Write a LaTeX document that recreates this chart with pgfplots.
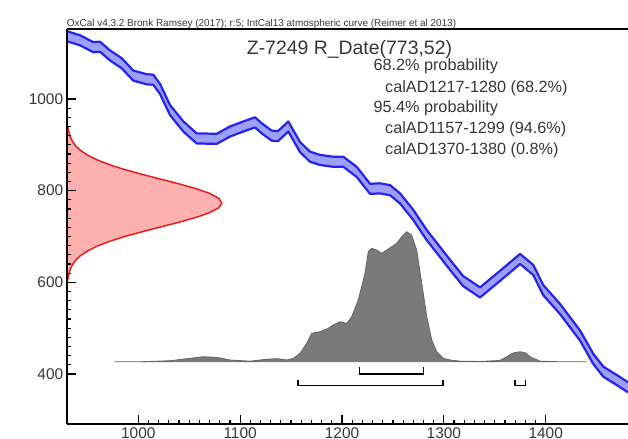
\documentclass[border=0pt]{standalone}
\usepackage{pgfplots}
\pgfplotsset{compat=1.18}
\usepgfplotslibrary{fillbetween}
\usepackage{fontspec}
\setmainfont{Liberation Sans}

\definecolor{bandfill}{RGB}{158,158,252}
\definecolor{bandline}{RGB}{36,36,235}
\definecolor{datefill}{RGB}{252,176,176}
\definecolor{dateline}{RGB}{232,30,30}
\definecolor{postfill}{RGB}{122,122,122}
\definecolor{postline}{RGB}{100,100,100}
\definecolor{txt}{RGB}{55,55,55}

% IntCal13 band (1 sigma envelope)
\pgfplotstableread{
yr lo hi
929.7 1126 1148
942.8 1117 1139
955.8 1102 1124
962.4 1103 1125
972.2 1084 1106
983.7 1067 1089
995.1 1040 1062
1008.2 1032 1054
1014.7 1031 1053
1021.3 1011 1033
1031.1 965 987
1044.2 929 951
1057.3 903 925
1077.0 902 924
1090.0 918 940
1103.1 929 951
1114.6 938 960
1121.2 925 947
1131.0 909 931
1137.2 908 930
1147.3 929 951
1158.8 884 906
1168.6 863 885
1178.4 856 878
1191.5 852 874
1201.3 852 874
1214.4 830 852
1227.5 793 815
1237.3 794 816
1247.2 790 812
1257.0 772 794
1270.0 736 758
1283.2 692 714
1296.3 655 677
1306.1 627 649
1318.8 592 614
1335.5 567 589
1355.1 603 625
1374.8 640 662
1387.8 616 638
1397.6 572 594
1414.0 531 553
1433.7 473 495
1446.7 422 444
1456.6 394 416
1469.7 376 398
1480.8 360 382
}\curve

\begin{document}
\begin{tikzpicture}
\begin{axis}[
  at={(0,0)}, anchor=south west,
  scale only axis, width=561.3bp, height=395.3bp,
  xmin=929.7, xmax=1480.8, ymin=290.3, ymax=1152.7,
  axis x line*=box, axis y line*=left,
  axis line style={line width=1.8bp, black},
  axis on top,
  xtick={1000,1100,1200,1300,1400},
  ytick={400,600,800,1000},
  minor x tick num=9, minor y tick num=9,
  xtick pos=bottom, ytick pos=left,
  tick align=inside,
  major tick length=9bp, minor tick length=4bp,
  tick style={black, line width=1.2bp},
  ticklabel style={font=\fontsize{15.5}{18}\selectfont, text=txt},
  /pgf/number format/assume math mode=true,
  /pgf/number format/1000 sep={},
]
% calibration curve
\addplot[name path=up, draw=none] table[x=yr, y=hi] {\curve};
\addplot[name path=dn, draw=none] table[x=yr, y=lo] {\curve};
\addplot[bandfill] fill between[of=up and dn];
\addplot[draw=bandline, line width=2.2bp, line join=round] table[x=yr, y=hi] {\curve};
\addplot[draw=bandline, line width=2.2bp, line join=round] table[x=yr, y=lo] {\curve};

% radiocarbon date 773 +- 52
\addplot[fill=datefill, draw=dateline, line width=1.5bp] coordinates {
(929.7,606.6) (930.9,606.6) (931.7,617) (933.0,627.4) (935.2,637.8)
(938.5,648.2) (943.5,658.6) (950.6,669) (960.1,679.4) (972.3,689.8)
(987.0,700.2) (1004.0,710.6) (1022.2,721) (1040.4,731.4) (1057.0,741.8)
(1070.3,752.2) (1079.0,762.6) (1082.0,773) (1079.0,783.4) (1070.3,793.8)
(1057.0,804.2) (1040.4,814.6) (1022.2,825) (1004.0,835.4) (987.0,845.8)
(972.3,856.2) (960.1,866.6) (950.6,877) (943.5,887.4) (938.5,897.8)
(935.2,908.2) (933.0,918.6) (931.7,929) (930.9,939.4) (929.7,939.4)
};

% calibrated date
\addplot[fill=postfill, draw=postline, line width=0.8bp] coordinates {
(977.1,426.8) (1001.7,426.8) (1031.1,429.0) (1050.8,434.2) (1063.8,437.7)
(1077.0,436.4) (1090.0,430.6) (1109.7,428.0) (1126.1,432.2) (1135.9,433.5)
(1145.7,430.6) (1152.2,434.2) (1158.8,445.1) (1165.3,466.9) (1170.3,488.7)
(1178.4,492.3) (1186.5,499.7) (1191.5,506.9) (1198.0,514.1) (1204.6,510.6)
(1209.5,525.0) (1216.0,561.4) (1222.6,619.7) (1225.8,666.8) (1229.2,674.2)
(1234.1,670.5) (1239.0,663.3) (1243.9,670.5) (1248.8,677.7) (1253.7,685.1)
(1258.6,699.5) (1263.5,710.4) (1268.4,703.2) (1273.3,670.5) (1278.3,597.9)
(1283.2,525.0) (1288.1,474.2) (1293.0,448.6) (1299.5,434.2) (1306.0,430.6)
(1315.9,428.0) (1335.5,427.4) (1355.1,429.6) (1361.7,437.7) (1367.9,445.8)
(1374.8,448.6) (1380.7,445.8) (1384.6,437.7) (1394.4,428.0) (1414.0,426.8)
(1440.2,426.8)
} -- cycle;

% ranges
\addplot[black, line width=1.5bp] coordinates {(1217,416) (1217,400) (1280,400) (1280,416)};
\addplot[black, line width=1.5bp] coordinates {(1157,386) (1157,375) (1299,375) (1299,386)};
\addplot[black, line width=1.5bp] coordinates {(1370,386) (1370,375) (1380,375) (1380,386)};
\end{axis}

\node[anchor=base west, inner sep=0pt, text=txt, font=\fontsize{10}{12}\selectfont] at (0bp,397.8bp)
  {OxCal v4.3.2 Bronk Ramsey (2017); r:5; IntCal13 atmospheric curve (Reimer et al 2013)};
\node[anchor=base west, text=txt, font=\fontsize{19.5}{22}\selectfont, inner sep=0pt] at (180bp,369.6bp) {Z-7249 R\_Date(773,52)};
\begin{scope}[every node/.style={anchor=base west, inner sep=0pt, text=txt, font=\fontsize{16.3}{19}\selectfont}]
\node at (306.6bp,353.6bp) {68.2\% probability};
\node at (318.3bp,331.3bp) {calAD1217-1280 (68.2\%)};
\node at (306.6bp,311.3bp) {95.4\% probability};
\node at (318.3bp,290.3bp) {calAD1157-1299 (94.6\%)};
\node at (318.3bp,269.6bp) {calAD1370-1380 (0.8\%)};
\end{scope}
\pgfresetboundingbox
\useasboundingbox (-66.7bp,-14.7bp) rectangle (561.3bp,424.3bp);
\end{tikzpicture}
\end{document}
